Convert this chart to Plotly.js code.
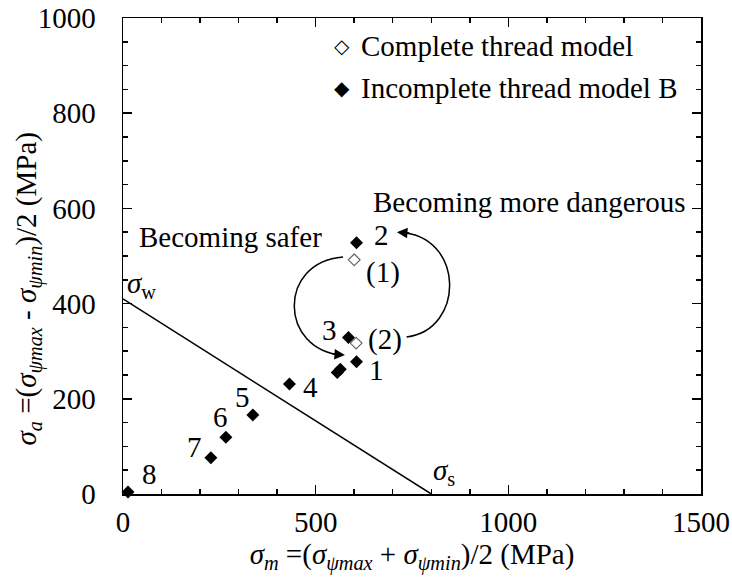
<!DOCTYPE html>
<html>
<head>
<meta charset="utf-8">
<script src="https://cdn.plot.ly/plotly-3.0.1.min.js"></script>
<style>html,body{margin:0;padding:0;background:#fff;}#chart{width:732px;height:578px;}</style>
</head>
<body>
<div id="chart"></div>
<script>
// Incomplete thread model B (filled diamonds)
const bX = [606, 606, 585, 432, 337, 267, 228, 13, 556, 564];
const bY = [278, 528, 329, 231, 166, 119, 76, 4, 255, 262];
const bLabels = ['1', '2', '3', '4', '5', '6', '7', '8', '', ''];
const bLabelShiftX = [20, 25, -19, 21, -10, -5, -16, 21, 0, 0];
const bLabelShiftY = [-8, 8, 7, -3, 18, 20, 11, 18, 0, 0];

// Complete thread model (open diamonds)
const cX = [600, 605];
const cY = [492, 317];
const cLabels = ['(1)', '(2)'];
const cLabelShiftX = [29, 29];
const cLabelShiftY = [-13, 4];

// Goodman-type line: sigma_w on the y axis, sigma_s on the x axis
const lineX = [0, 800];
const lineY = [410, 0];

const xTickVals = [0, 500, 1000, 1500];
const yTickVals = [0, 200, 400, 600, 800, 1000];

const FONT = 'Liberation Serif, Times New Roman, serif';
const FS = 29;

const traces = [
  {x: lineX, y: lineY, mode: 'lines', line: {color: '#000', width: 1.5}, showlegend: false, hoverinfo: 'skip'},
  {x: bX, y: bY, mode: 'markers', name: 'Incomplete thread model B',
   marker: {symbol: 'diamond', size: 10, color: '#000', line: {width: 0}}, cliponaxis: false, showlegend: false},
  {x: cX, y: cY, mode: 'markers', name: 'Complete thread model',
   marker: {symbol: 'diamond-open', size: 9, color: '#666', line: {width: 1.2, color: '#666'}}, cliponaxis: false, showlegend: false}
];

const annotations = [];
bLabels.forEach((t, i) => {
  if (!t) return;
  annotations.push({x: bX[i], y: bY[i], xref: 'x', yref: 'y', text: t, showarrow: false,
    xshift: bLabelShiftX[i], yshift: bLabelShiftY[i], font: {family: FONT, size: FS, color: '#000'}});
});
cLabels.forEach((t, i) => {
  annotations.push({x: cX[i], y: cY[i], xref: 'x', yref: 'y', text: t, showarrow: false,
    xshift: cLabelShiftX[i], yshift: cLabelShiftY[i], font: {family: FONT, size: FS, color: '#000'}});
});
// Text notes
annotations.push({x: 280, y: 540, xref: 'x', yref: 'y', text: 'Becoming safer', showarrow: false,
  font: {family: FONT, size: FS, color: '#000'}});
annotations.push({x: 1054, y: 613, xref: 'x', yref: 'y', text: 'Becoming more dangerous', showarrow: false,
  font: {family: FONT, size: FS, color: '#000'}});
annotations.push({x: lineX[0], y: lineY[0], xref: 'x', yref: 'y', text: '<i>σ</i><sub>w</sub>', showarrow: false,
  xanchor: 'left', xshift: 2, yshift: 14, font: {family: FONT, size: FS, color: '#000'}});
annotations.push({x: lineX[1], y: lineY[1], xref: 'x', yref: 'y', text: '<i>σ</i><sub>s</sub>', showarrow: false,
  xanchor: 'left', xshift: 0, yshift: 22, font: {family: FONT, size: FS, color: '#000'}});
// Arrow heads
annotations.push({x: 711, y: 550, xref: 'x', yref: 'y', ax: 14, ay: 1, text: '', showarrow: true,
  arrowhead: 2, arrowsize: 1.4, arrowwidth: 1.5, arrowcolor: '#000'});
annotations.push({x: 576, y: 292, xref: 'x', yref: 'y', ax: -14, ay: -1, text: '', showarrow: true,
  arrowhead: 2, arrowsize: 1.4, arrowwidth: 1.5, arrowcolor: '#000'});
// Legend (manual)
annotations.push({x: 0.379, y: 0.941, xref: 'paper', yref: 'paper', text: '◇', showarrow: false,
  xanchor: 'center', yanchor: 'middle', font: {family: 'DejaVu Sans', size: 20, color: '#000'}});
annotations.push({x: 0.379, y: 0.853, xref: 'paper', yref: 'paper', text: '◆', showarrow: false,
  xanchor: 'center', yanchor: 'middle', font: {family: 'DejaVu Sans', size: 20, color: '#000'}});
annotations.push({x: 0.408, y: 0.941, xref: 'paper', yref: 'paper', text: 'Complete thread model', showarrow: false,
  xanchor: 'left', yanchor: 'middle', font: {family: FONT, size: FS, color: '#000'}});
annotations.push({x: 0.408, y: 0.853, xref: 'paper', yref: 'paper', text: 'Incomplete thread model B', showarrow: false,
  xanchor: 'left', yanchor: 'middle', font: {family: FONT, size: FS, color: '#000'}});
// Y axis title (placed as annotation to match the reference's offset)
annotations.push({x: -0.164, y: 0.432, xref: 'paper', yref: 'paper', textangle: -90, showarrow: false,
  xanchor: 'center', yanchor: 'middle',
  text: '<i>σ<sub>a</sub></i> =(<i>σ<sub>ψmax</sub></i> - <i>σ<sub>ψmin</sub></i>)/2 (MPa)',
  font: {family: FONT, size: FS, color: '#000'}});

const shapes = [
  {type: 'path', xref: 'x', yref: 'y', path: 'M 736,330 C 888,345 888,544 716,550', line: {color: '#000', width: 1.5}},
  {type: 'path', xref: 'x', yref: 'y', path: 'M 571,498 C 400,487 405,302 570,292', line: {color: '#000', width: 1.5}}
];

const axisCommon = {
  showline: true, linecolor: '#000', linewidth: 1.5, mirror: 'ticks',
  ticks: 'inside', ticklen: 9, tickwidth: 1.5, tickcolor: '#000',
  showgrid: false, zeroline: false,
  tickfont: {family: FONT, size: FS, color: '#000'}
};

const layout = {
  width: 732, height: 578,
  margin: {l: 123, r: 31, t: 18, b: 84},
  paper_bgcolor: '#fff', plot_bgcolor: '#fff',
  showlegend: false,
  xaxis: Object.assign({}, axisCommon, {
    range: [0, 1500], tickvals: xTickVals, ticktext: xTickVals.map(String),
    minor: {dtick: 100, ticklen: 5, tickwidth: 1.5, tickcolor: '#000', ticks: 'inside'},
    ticklabelstandoff: 2,
    title: {text: '<i>σ<sub>m</sub></i> =(<i>σ<sub>ψmax</sub></i> + <i>σ<sub>ψmin</sub></i>)/2 (MPa)',
            font: {family: FONT, size: FS, color: '#000'}, standoff: 6}
  }),
  yaxis: Object.assign({}, axisCommon, {
    range: [0, 1000], tickvals: yTickVals, ticktext: yTickVals.map(String),
    minor: {dtick: 50, ticklen: 5, tickwidth: 1.5, tickcolor: '#000', ticks: 'inside'},
    ticklabelstandoff: 20
  }),
  annotations: annotations,
  shapes: shapes
};

Plotly.newPlot('chart', traces, layout, {displayModeBar: false, staticPlot: true});
</script>
</body>
</html>
